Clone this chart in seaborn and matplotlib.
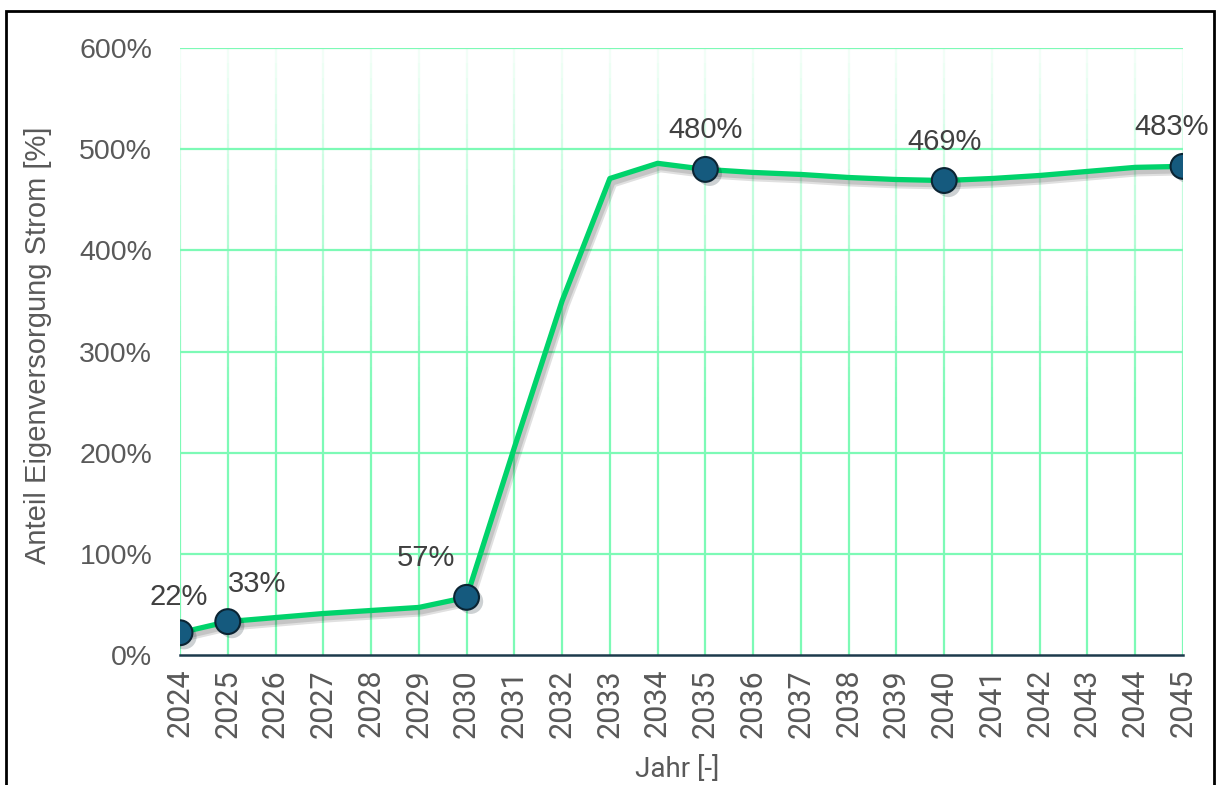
import numpy as np
import pandas as pd
import matplotlib
matplotlib.use("Agg")
import matplotlib.pyplot as plt
import matplotlib.patheffects as pe
from matplotlib.collections import LineCollection
from matplotlib.patches import Rectangle
import seaborn as sns

years = list(range(2024, 2046))
share = [22, 33, 37, 41, 44, 47, 57, 205, 350, 471, 486, 480, 477, 475, 472, 470, 469, 471, 474, 478, 482, 483]
marked_years = [2024, 2025, 2030, 2035, 2040, 2045]
label_offsets = {2024: (-1, 16), 2025: (21, 17), 2030: (-29, 18), 2035: (0, 18), 2040: (0, 18), 2045: (-8, 18)}
y_ticks = [0, 100, 200, 300, 400, 500, 600]

df = pd.DataFrame({"Jahr": years, "Anteil": share})
dm = df[df["Jahr"].isin(marked_years)]

sns.set_style("white")
plt.rcParams["font.family"] = ["Liberation Sans", "DejaVu Sans"]

fig = plt.figure(figsize=(12.16, 7.85), dpi=100)
fig.patches.append(Rectangle((6 / 1216, -0.05), 1208 / 1216, 1 - 11 / 785 + 0.05,
                             transform=fig.transFigure, fill=False, edgecolor="black", linewidth=2, zorder=0))
ax = fig.add_axes([180 / 1216, 1 - 655 / 785, (1183 - 180) / 1216, (655 - 48) / 785])

grid_col = "#7dfab6"
for yv in y_ticks[1:]:
    ax.axhline(yv, color=grid_col, lw=1.6, zorder=1)
n = 40
ys = np.linspace(0, 600, n + 1)
for x in years:
    segs = [[(x, ys[i]), (x, ys[i + 1])] for i in range(n)]
    mids = (ys[:-1] + ys[1:]) / 2
    alphas = np.clip(1.0 - (mids - 250) / 350 * 0.92, 0.06, 1.0)
    cols = [matplotlib.colors.to_rgba(grid_col, a) for a in alphas]
    ax.add_collection(LineCollection(segs, colors=cols, linewidths=1.6, zorder=1))

sns.lineplot(data=df, x="Jahr", y="Anteil", ax=ax, color="#00d36b", lw=3.8, zorder=3,
             path_effects=[pe.SimpleLineShadow(offset=(2, -3), shadow_color="black", alpha=0.12, linewidth=7),
                           pe.SimpleLineShadow(offset=(2, -3), shadow_color="black", alpha=0.12, linewidth=4),
                           pe.Normal()])
sns.scatterplot(data=dm, x="Jahr", y="Anteil", ax=ax, s=320, color="#155a7e", edgecolor="#0b2433",
                linewidth=1.5, zorder=4,
                path_effects=[pe.SimplePatchShadow(offset=(3, -3), alpha=0.2), pe.Normal()])

for _, r in dm.iterrows():
    dx, dy = label_offsets[int(r["Jahr"])]
    ax.annotate(f"{int(r['Anteil'])}%", (r["Jahr"], r["Anteil"]), xytext=(dx, dy),
                textcoords="offset points", ha="center", va="bottom", fontsize=21, color="#404040", zorder=5)

ax.set_xlim(2024, 2045)
ax.set_ylim(0, 600)
ax.set_xticks(years)
ax.set_xticklabels([str(y) for y in years], rotation=90, fontsize=22, color="#595959", family=["Roboto", "DejaVu Sans"])
ax.set_yticks(y_ticks)
ax.set_yticklabels([f"{v}%" for v in y_ticks], fontsize=20.5, color="#595959")
ax.tick_params(axis="x", length=0, pad=10)
ax.tick_params(axis="y", length=0, pad=20)
for s in ["top", "right", "left"]:
    ax.spines[s].set_visible(False)
ax.spines["bottom"].set_color("#1d3a4c")
ax.spines["bottom"].set_linewidth(1.8)
ax.spines["bottom"].set_zorder(2)
ax.set_xlabel("")
ax.set_ylabel("")
ax.margins(0)

fig.text(38 / 1216, 1 - 345 / 785, "Anteil Eigenversorgung Strom [%]", rotation=90, ha="center", va="center",
         fontsize=21, color="#595959")
fig.text(677 / 1216, 1 - 756 / 785, "Jahr [-]", ha="center", va="top", fontsize=20, color="#595959",
         family=["Roboto", "DejaVu Sans"])

fig.savefig("out.png", dpi=100)
